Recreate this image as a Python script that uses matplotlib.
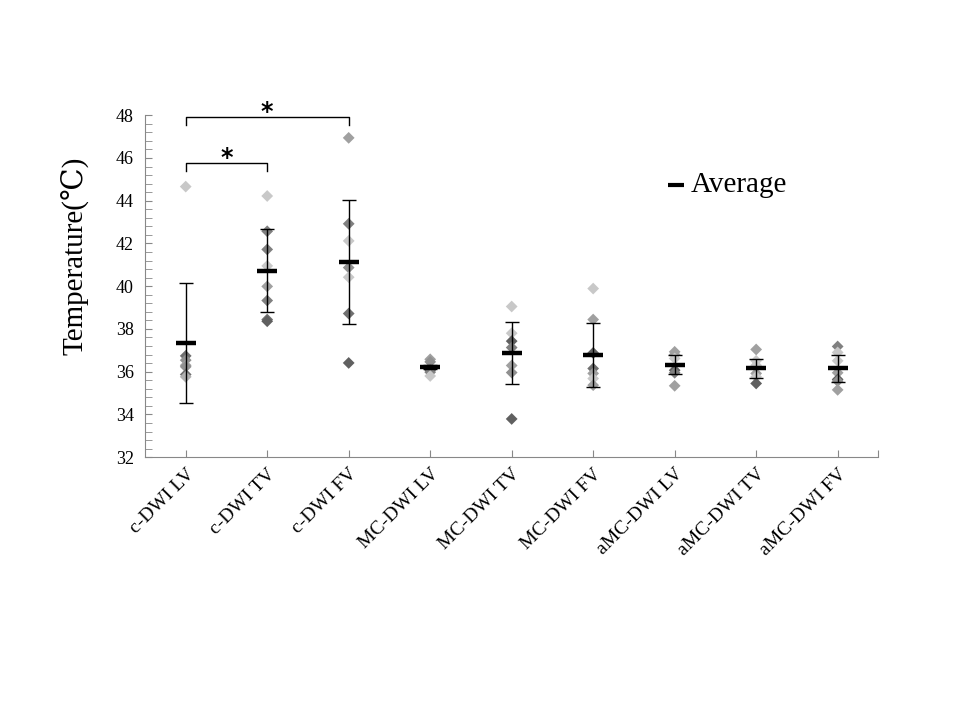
import numpy as np
import matplotlib
matplotlib.use('Agg')
from matplotlib import pyplot as plt
from matplotlib.ticker import MultipleLocator

plt.rcParams['font.family'] = ['Liberation Serif', 'DejaVu Serif']

# grupos
groups = ['c-DWI LV', 'c-DWI TV', 'c-DWI FV', 'MC-DWI LV', 'MC-DWI TV',
          'MC-DWI FV', 'aMC-DWI LV', 'aMC-DWI TV', 'aMC-DWI FV']

# temperaturas de cada caso
temps = [
    [44.66, 36.74, 36.54, 36.30, 36.23, 35.87, 35.76],
    [44.22, 42.57, 41.72, 40.95, 39.99, 39.33, 38.44, 38.36],
    [46.94, 42.92, 42.12, 40.87, 40.42, 38.72, 36.41],
    [36.58, 36.46, 36.07, 35.98, 35.80],
    [39.05, 37.80, 37.43, 37.13, 36.29, 35.96, 33.79],
    [39.89, 38.44, 36.88, 36.15, 35.92, 35.68, 35.37],
    [36.93, 36.80, 36.62, 36.07, 35.95, 35.34],
    [37.04, 36.51, 36.30, 35.92, 35.76, 35.45],
    [37.18, 36.90, 36.51, 35.95, 35.64, 35.56, 35.15],
]
# tono de gris de cada punto
shades = [
    ['#c8c8c8', '#707070', '#909090', '#a0a0a0', '#909090', '#707070', '#b0b0b0'],
    ['#c8c8c8', '#808080', '#808080', '#c8c8c8', '#a0a0a0', '#808080', '#707070', '#606060'],
    ['#a0a0a0', '#808080', '#c8c8c8', '#909090', '#c8c8c8', '#707070', '#606060'],
    ['#a0a0a0', '#909090', '#606060', '#808080', '#c8c8c8'],
    ['#c8c8c8', '#c8c8c8', '#606060', '#808080', '#a0a0a0', '#909090', '#606060'],
    ['#c8c8c8', '#a0a0a0', '#606060', '#707070', '#a0a0a0', '#c8c8c8', '#a0a0a0'],
    ['#a0a0a0', '#a0a0a0', '#c8c8c8', '#606060', '#808080', '#a0a0a0'],
    ['#a0a0a0', '#c8c8c8', '#c8c8c8', '#a0a0a0', '#c8c8c8', '#606060'],
    ['#808080', '#c8c8c8', '#c8c8c8', '#a0a0a0', '#606060', '#909090', '#a0a0a0'],
]
# promedio y desviacion estandar
means = [37.35, 40.72, 41.12, 36.23, 36.88, 36.79, 36.32, 36.15, 36.15]
sds = [2.81, 1.94, 2.90, 0.10, 1.45, 1.49, 0.45, 0.45, 0.64]

# comparaciones significativas (grupo a, grupo b, altura)
sig_pairs = [(1, 2, 45.75), (1, 3, 47.9)]

fig = plt.figure(figsize=(9.6, 7.2), dpi=100)
ax = fig.add_axes([0.151, 0.365, 0.764, 0.475])

x = np.arange(1, len(groups) + 1)
for xi, vals, cols in zip(x, temps, shades):
    ax.scatter(np.full(len(vals), xi), vals, marker='D', s=36, c=cols,
               linewidths=0, zorder=3)

ax.errorbar(x, means, yerr=sds, fmt='none', ecolor='black', elinewidth=1,
            capsize=5, capthick=1, zorder=4)
ax.plot(x, means, linestyle='none', marker='_', markersize=14,
        markeredgewidth=3.2, color='black', zorder=5)

ax.set_xlim(0.5, 9.5)
ax.set_ylim(32, 48)
ax.yaxis.set_major_locator(MultipleLocator(2))
ax.yaxis.set_minor_locator(MultipleLocator(0.4))
ax.set_xticks(list(x) + [9.5])
ax.set_xticklabels(groups + [''], rotation=45, ha='right',
                   rotation_mode='anchor', fontsize=14)
ax.tick_params(axis='x', direction='in', length=5, color='#888888', pad=6)
ax.tick_params(axis='y', which='both', direction='in', length=5,
               color='#888888', labelsize=13, pad=8)
for s in ['top', 'right']:
    ax.spines[s].set_visible(False)
for s in ['left', 'bottom']:
    ax.spines[s].set_color('#888888')

ax.set_ylabel('Temperature(℃)', fontsize=21)
ax.yaxis.set_label_coords(-0.076, 0.59)

# corchetes de significancia
for a, b, h in sig_pairs:
    ax.plot([a, a, b, b], [h - 0.35, h, h, h - 0.35], color='black',
            linewidth=1, clip_on=False)
    ax.text((a + b) / 2, h - 0.1, '*', ha='center', va='baseline',
            fontsize=17, fontweight='bold', family='DejaVu Sans')

# leyenda
ax.plot([7.02], [44.72], marker='_', markersize=11, markeredgewidth=3,
        color='black', linestyle='none')
ax.text(7.2, 44.72, 'Average', fontsize=21, va='center')

fig.savefig('out.png', dpi=100)
